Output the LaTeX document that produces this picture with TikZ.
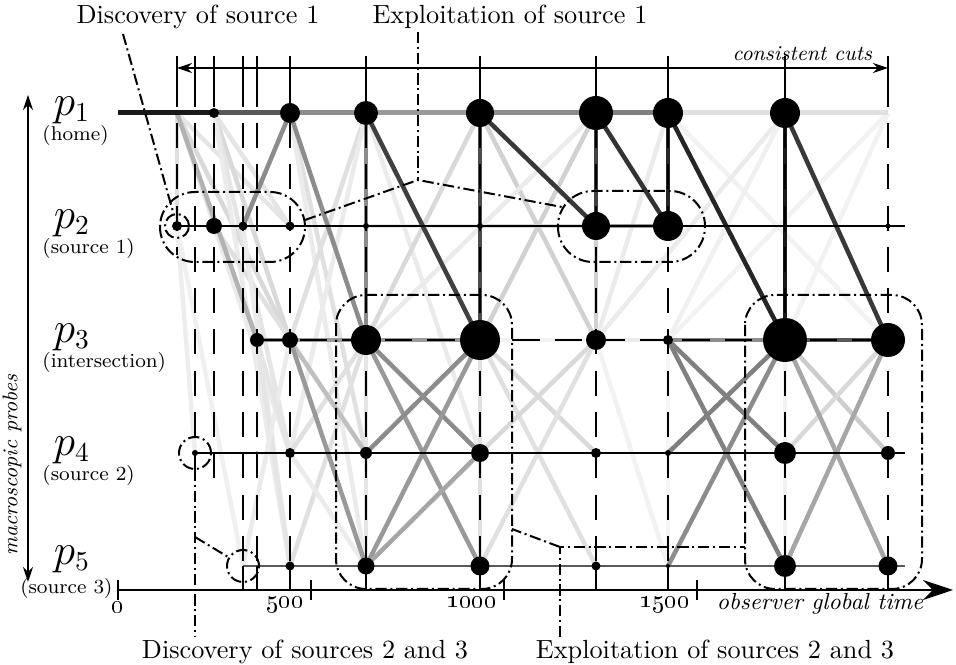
\documentclass[tikz,border=0pt]{standalone}
\usepackage{xcolor}
\usepackage{tikz}
\usetikzlibrary{arrows.meta}

\begin{document}
\begin{tikzpicture}[x=0.4pt, y=-0.4pt,
    msg/.style={line width=1.8pt, draw=black!#1},
    dot/.style={circle, fill=black, inner sep=0pt, minimum size=#1*0.8pt},
    annot/.style={line width=0.8pt, dash pattern=on 4.5pt off 1.5pt on 0.8pt off 1.5pt},
    ring/.style={circle, draw, annot, inner sep=0pt, minimum size=#1*0.8pt},
    cutline/.style={line width=0.45pt, dash pattern=on 10pt off 6.5pt},
    thinline/.style={line width=0.5pt},
    note/.style={font=\fontsize{10.5}{12}\selectfont, inner sep=1pt},
    axname/.style={font=\fontsize{8.5}{10}\selectfont\itshape, inner sep=1pt},
    procname/.style={font=\fontsize{16}{19}\selectfont, inner sep=0pt},
    procrole/.style={font=\fontsize{8}{10}\selectfont, inner sep=0pt, anchor=west},
    ticknum/.style={font=\fontsize{10}{12}\selectfont, inner sep=0pt}
]
\useasboundingbox (0,0) rectangle (956,665);

% Grid: cuts (columns) x probes (rows)
\foreach \c/\x in {1/177,2/195,3/214,4/243,5/257,6/290,7/366,8/480,9/596,10/668,11/785,12/888}
  \foreach \r/\y in {1/113,2/226,3/340,4/453,5/566}
    \coordinate (p\r-\c) at (\x,\y);
\coordinate (home) at (118,113);

% Messages between probes
\foreach \a/\b/\k in {p1-1/p2-1/12, p2-1/p4-2/7, p2-1/p5-4/6, p1-1/p3-6/15, p1-1/p4-6/10,
    p1-1/p2-6/10, p1-3/p3-6/15, p1-3/p4-6/10, p1-3/p5-6/8, p1-3/p2-6/10, p2-3/p3-6/12,
    p2-3/p4-6/8, p2-4/p5-6/8, p3-5/p5-6/10, p3-6/p5-4/8, p3-5/p4-6/10, p1-6/p4-7/12,
    p1-6/p5-7/8, p1-7/p3-6/12, p1-7/p4-6/8, p3-7/p4-6/12, p3-7/p5-6/12, p4-6/p5-7/8,
    p3-7/p5-7/10, p1-7/p4-8/8, p1-8/p3-7/15, p1-8/p3-9/18, p2-7/p2-8/8, p2-8/p2-9/15,
    p1-9/p3-8/18, p1-9/p3-7/8, p2-9/p3-9/18, p3-8/p5-8/12, p3-8/p4-9/15, p3-8/p5-9/12,
    p3-9/p4-8/15, p3-9/p5-8/12, p3-9/p5-10/5, p1-10/p3-9/8, p1-10/p3-12/5, p1-11/p3-9/8,
    p1-11/p3-10/6, p1-12/p3-10/5, p1-12/p3-11/5, p3-8/p3-9/5, p3-9/p3-10/8, p3-10/p5-10/4,
    p3-11/p5-11/5, p3-11/p4-12/20, p3-12/p4-11/15}
  \draw[msg=\k] (\a) -- (\b);
\foreach \a/\b/\k in {p1-1/p3-5/30, p1-6/p2-4/45, p1-6/p3-7/45, p3-5/p3-6/45, p3-6/p4-7/25,
    p3-6/p5-7/40, p3-6/p3-7/40, p3-7/p3-8/40, p1-7/p3-7/45, p3-7/p4-8/45, p3-7/p5-8/40,
    p3-8/p4-7/45, p3-8/p5-7/40, p4-8/p5-7/35, p3-10/p3-11/45, p3-10/p4-11/50,
    p3-10/p5-11/50, p4-10/p3-11/50, p5-10/p3-11/45, p3-11/p5-12/35, p3-12/p5-11/35,
    p3-11/p3-12/65, p2-9/p2-10/40, p1-8/p3-8/70, p1-7/p3-8/75, p1-8/p2-9/78,
    p1-9/p2-9/75, p1-9/p2-10/80, p1-10/p2-10/85, p1-10/p3-11/85, p1-11/p3-11/90,
    p1-11/p3-12/78}
  \draw[msg=\k] (\a) -- (\b);

% Home probe line
\foreach \a/\b/\k in {home/p1-3/90, p1-3/p1-6/65, p1-6/p1-7/45, p1-7/p1-8/40,
    p1-8/p1-9/45, p1-9/p1-10/50, p1-10/p1-12/12}
  \draw[msg=\k, line width=2pt] (\a) -- (\b);

% Other probe lines
\draw[thinline] (p2-1) -- (p2-12) -- ++(17,0);
\draw[thinline] (p4-2) -- (p4-12) -- ++(17,0);
\draw[thinline, black!65] (p5-4) -- (p5-12) -- ++(17,0);
\draw[thinline, dash pattern=on 11pt off 6pt] (p3-5) -- (p3-12);

% Consistent cuts
\foreach \x/\e in {177/255, 195/470, 214/478}
  \draw[cutline] (\x,82) -- (\x,\e);
\foreach \x in {243,257,290,366,480,596,668,785,888} {
  \draw[cutline] (\x,82) -- (\x,566);
  \draw[thinline] (\x,566) -- (\x,590);
}
\foreach \x in {177,195,214,243,257,290,366,480,596,668,785,888}
  \draw[thinline] (\x,56) -- (\x,82);
\draw[thinline, {Stealth[length=6pt,width=4pt]}-{Stealth[length=6pt,width=4pt]}] (177,68) -- (888,68);
\node[axname, anchor=south east] (cuts) at (875,64) {consistent cuts};

% Probe states
\foreach \pc/\s in {1-3/5, 1-6/10, 1-7/12, 1-8/14, 1-9/17, 1-10/15, 1-11/15,
    2-1/5, 2-3/8, 2-4/4.5, 2-6/4.5, 2-7/3, 2-8/3, 2-9/14, 2-10/15, 2-11/2, 2-12/2.5,
    3-5/7, 3-6/8, 3-7/15, 3-8/20, 3-9/10, 3-10/5, 3-11/22, 3-12/17,
    4-2/3, 4-5/1.5, 4-6/5, 4-7/6, 4-8/9, 4-9/5, 4-10/3, 4-11/11, 4-12/7,
    5-6/4.5, 5-7/8.5, 5-8/9.5, 5-9/4.5, 5-10/2, 5-11/11, 5-12/9.5}
  \node[dot=\s] (d\pc) at (p\pc) {};

% Discoveries and exploitations
\node[ring=12] (ring1) at (p2-1) {};
\node[ring=16] (ring2) at (p4-2) {};
\node[ring=16] (ring3) at (p5-4) {};
\draw[annot, rounded corners=14pt] (160,192) rectangle (305,262);
\draw[annot, rounded corners=14pt] (558,191) rectangle (705,262);
\draw[annot, rounded corners=12pt] (336,295) rectangle (512,589);
\draw[annot, rounded corners=12pt] (745,295) rectangle (922,589);

\node[note] (disc1) at (198,17) {Discovery of source 1};
\node[note] (expl1) at (510,17) {Exploitation of source 1};
\node[note] (disc23) at (305,652) {Discovery of sources 2 and 3};
\node[note] (expl23) at (715,652) {Exploitation of sources 2 and 3};

\coordinate (a1) at (123,34);
\draw[annot] (a1) -- (ring1);
\coordinate (j1) at (418,180);
\coordinate (boxA-e) at (305,220);
\coordinate (boxB-w) at (562,207);
\draw[annot] (expl1.south -| j1) -- (j1);
\draw[annot] (boxA-e) -- (j1) -- (boxB-w);
\coordinate (j3) at (195,537);
\draw[annot] (ring2) -- (disc23.north -| ring2);
\draw[annot] (j3) -- (ring3);
\coordinate (j4) at (560,547);
\coordinate (boxC-e) at (512,529);
\coordinate (boxD-w) at (745,547);
\draw[annot] (expl23.north -| j4) -- (j4) -- (boxD-w);
\draw[annot] (j4) -- (boxC-e);

% Observer time axis
\coordinate (t0) at (118,590);
\draw[line width=0.8pt, -{Stealth[length=12pt,width=8pt]}] (t0) -- (953,590);
\foreach \x in {118,311,504,697}
  \draw[line width=0.8pt] (\x,580) -- (\x,600);
\node[ticknum, anchor=base] (n0) at (118,613) {\oldstylenums{0}};
\foreach \x/\t in {311/500,504/1000,697/1500}
  \node[ticknum, anchor=base east] (n\t) at (\x-7,608) {\oldstylenums{\t}};
\node[axname, anchor=base, font=\fontsize{9.3}{11}\selectfont\itshape] (otime) at (820,610) {observer global time};

% Probes
\draw[thinline, {Stealth[length=6pt,width=4pt]}-{Stealth[length=6pt,width=4pt]}] (28,95) -- (28,582);
\node[axname, rotate=90] (probes) at (12,465) {macroscopic probes};
\foreach \r/\y/\role in {1/113/{(home)}, 2/226/{(source 1)}, 3/340/{(intersection)}, 4/453/{(source 2)}} {
  \node[procname] (name\r) at (72,\y-3) {$p_{\r}$};
  \node[procrole] (role\r) at (42,\y+23) {\role};
}
\node[procname] (name5) at (72,559) {$p_5$};
\node[procrole, anchor=east] (role5) at (113,589) {(source 3)};
\end{tikzpicture}
\end{document}
